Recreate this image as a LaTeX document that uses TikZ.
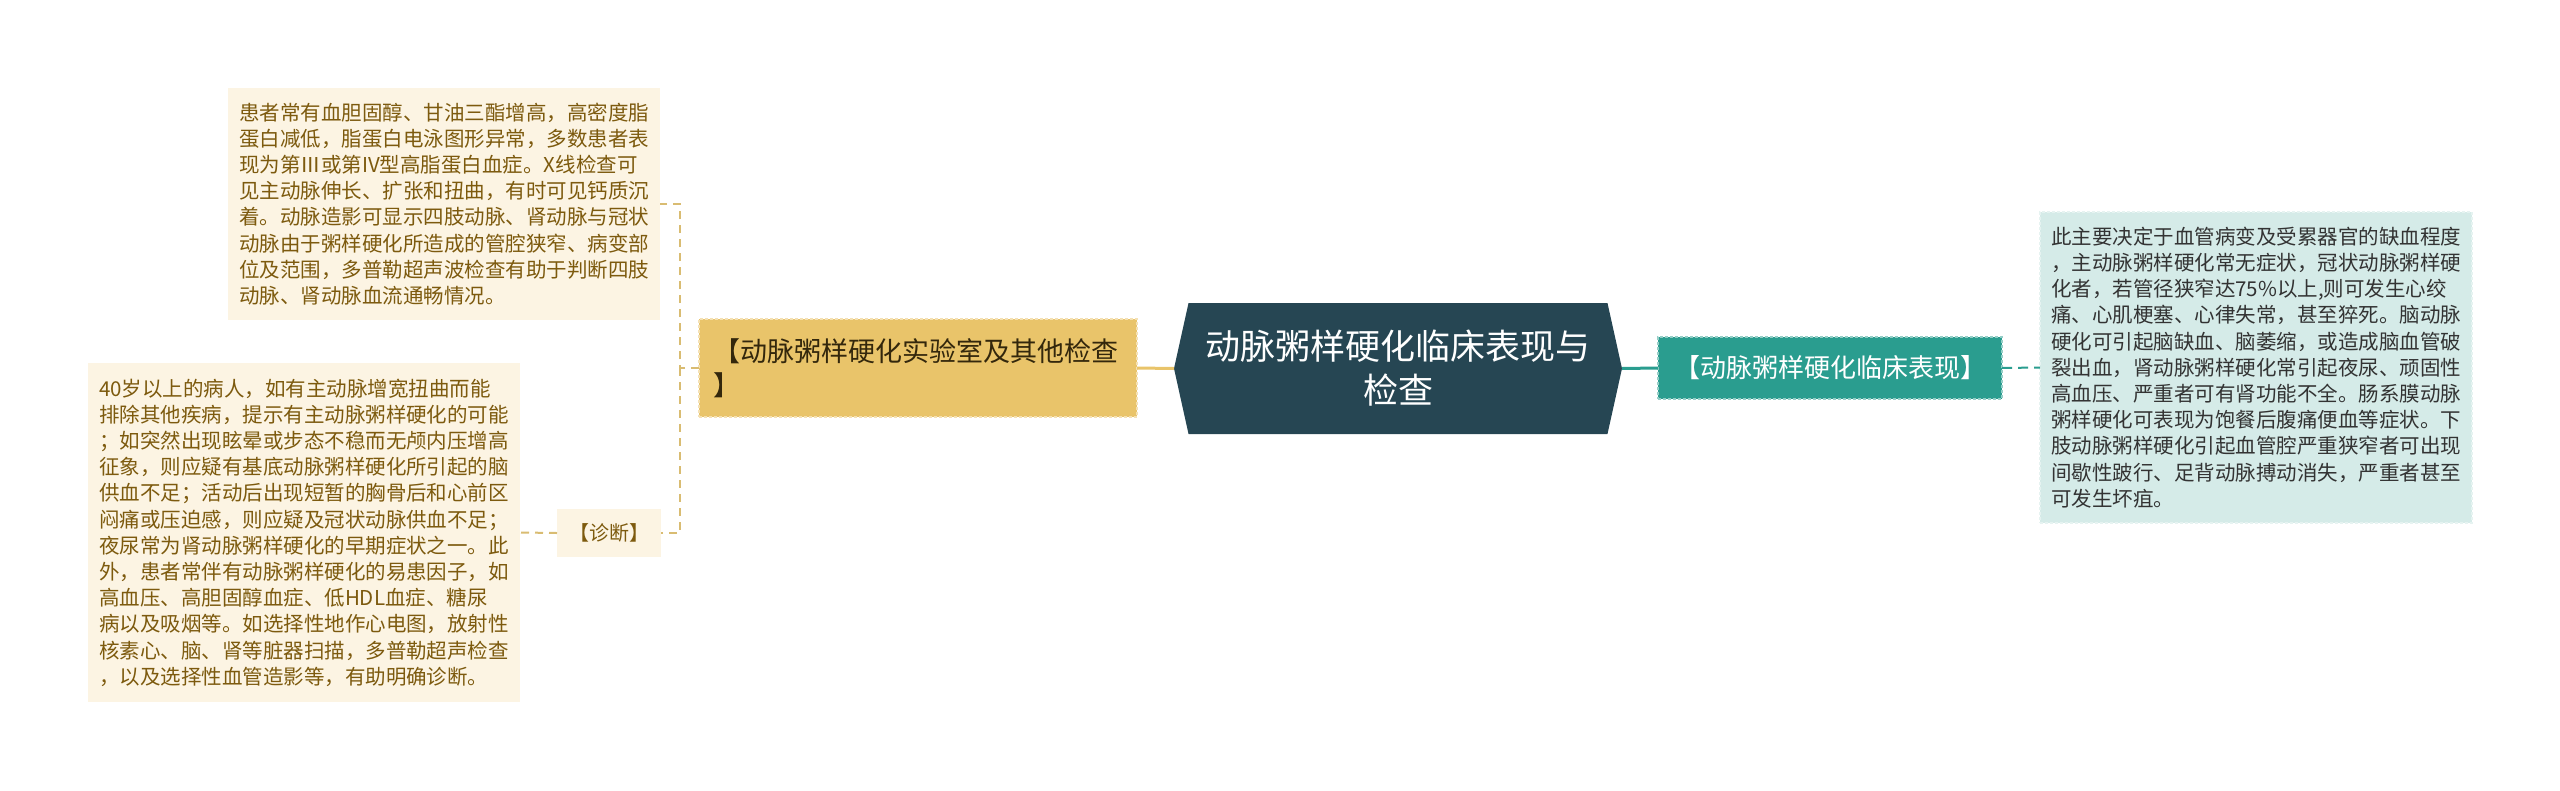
\documentclass[tikz,border=0pt]{standalone}
\usepackage{fontspec}
\setmainfont{Noto Sans CJK SC}
\usetikzlibrary{shapes.symbols}
\definecolor{rootblue}{HTML}{264653}
\definecolor{goldfill}{HTML}{E9C46A}
\definecolor{goldline}{HTML}{D9BC72}
\definecolor{goldtext}{HTML}{33270C}
\definecolor{creambg}{HTML}{FCF4E3}
\definecolor{browntext}{HTML}{7D5A0E}
\definecolor{tealfill}{HTML}{2A9D8F}
\definecolor{tealbg}{HTML}{D5EBE8}
\definecolor{greytext}{HTML}{333333}
\begin{document}
\begin{tikzpicture}[x=1pt,y=-1pt,
    every node/.style={inner sep=0pt,outer sep=0pt},
    root/.style={signal,signal to=west and east,signal pointer angle=155,
      fill=rootblue,text=white,minimum width=448pt,minimum height=131pt,
      align=center,font=\fontsize{35}{44}\selectfont},
    branchgold/.style={fill=goldfill,draw=goldfill!50!white,line width=1.5pt,
      dash pattern=on 3pt off 2pt,text=goldtext,align=left,text width=410pt,
      minimum width=438pt,minimum height=98pt,font=\fontsize{27}{34}\selectfont},
    branchteal/.style={fill=tealfill,draw=tealfill!50!white,line width=1.5pt,
      dash pattern=on 3pt off 2pt,text=white,minimum width=344pt,
      minimum height=62pt,font=\fontsize{26}{32}\selectfont},
    leafgold/.style={fill=creambg,text=browntext,align=left,minimum width=432pt,
      font=\fontsize{20.5}{26.2}\selectfont},
    leafteal/.style={fill=tealbg,draw=tealbg!60!white,line width=1.5pt,
      dash pattern=on 3pt off 2pt,text=greytext,align=left,minimum width=432pt,
      font=\fontsize{20.5}{26.2}\selectfont},
    golddash/.style={draw=goldline,line width=2pt,dash pattern=on 8pt off 6pt},
    tealdash/.style={draw=tealfill,line width=2pt,dash pattern=on 10pt off 6pt}]
  \useasboundingbox (0,0) rectangle (2560,790);

  \node[root] (root) at (1398,368.5) {动脉粥样硬化临床表现与\\检查};

  % left side
  \node[branchgold] (exam) at (918,368) {【动脉粥样硬化实验室及其他检查\\】};
  \node[leafgold,minimum height=232pt] (examtxt) at (444,204) {患者常有血胆固醇、甘油三酯增高，高密度脂\\
    蛋白减低，脂蛋白电泳图形异常，多数患者表\\
    现为第Ⅲ或第IV型高脂蛋白血症。X线检查可\\
    见主动脉伸长、扩张和扭曲，有时可见钙质沉\\
    着。动脉造影可显示四肢动脉、肾动脉与冠状\\
    动脉由于粥样硬化所造成的管腔狭窄、病变部\\
    位及范围，多普勒超声波检查有助于判断四肢\\
    动脉、肾动脉血流通畅情况。};
  \node[leafgold,minimum width=104pt,minimum height=48pt,
    font=\fontsize{20}{24}\selectfont] (diag) at (609,533) {【诊断】};
  \node[leafgold,minimum height=339pt] (diagtxt) at (304,532.5) {40岁以上的病人，如有主动脉增宽扭曲而能\\
    排除其他疾病，提示有主动脉粥样硬化的可能\\
    ；如突然出现眩晕或步态不稳而无颅内压增高\\
    征象，则应疑有基底动脉粥样硬化所引起的脑\\
    供血不足；活动后出现短暂的胸骨后和心前区\\
    闷痛或压迫感，则应疑及冠状动脉供血不足；\\
    夜尿常为肾动脉粥样硬化的早期症状之一。此\\
    外，患者常伴有动脉粥样硬化的易患因子，如\\
    高血压、高胆固醇血症、低HDL血症、糖尿\\
    病以及吸烟等。如选择性地作心电图，放射性\\
    核素心、脑、肾等脏器扫描，多普勒超声检查\\
    ，以及选择性血管造影等，有助明确诊断。};

  % right side
  \node[branchteal] (clin) at (1830,368) {【动脉粥样硬化临床表现】};
  \node[leafteal,minimum height=311pt] (clintxt) at (2256,367.5) {此主要决定于血管病变及受累器官的缺血程度\\
    ，主动脉粥样硬化常无症状，冠状动脉粥样硬\\
    化者，若管径狭窄达75\%以上,则可发生心绞\\
    痛、心肌梗塞、心律失常，甚至猝死。脑动脉\\
    硬化可引起脑缺血、脑萎缩，或造成脑血管破\\
    裂出血，肾动脉粥样硬化常引起夜尿、顽固性\\
    高血压、严重者可有肾功能不全。肠系膜动脉\\
    粥样硬化可表现为饱餐后腹痛便血等症状。下\\
    肢动脉粥样硬化引起血管腔严重狭窄者可出现\\
    间歇性跛行、足背动脉搏动消失，严重者甚至\\
    可发生坏疽。};

  \coordinate (lj) at (680,368);
  \draw[goldfill,line width=3pt] (root.west) -- (exam.east);
  \draw[golddash] (exam.west) -- (lj) |- (examtxt.east);
  \draw[golddash] (lj) |- (diag.east);
  \draw[golddash] (diag.west) -- (diagtxt.east);
  \draw[tealfill,line width=3pt] (root.east) -- (clin.west);
  \draw[tealdash] (clin.east) -- (clintxt.west);
\end{tikzpicture}
\end{document}
